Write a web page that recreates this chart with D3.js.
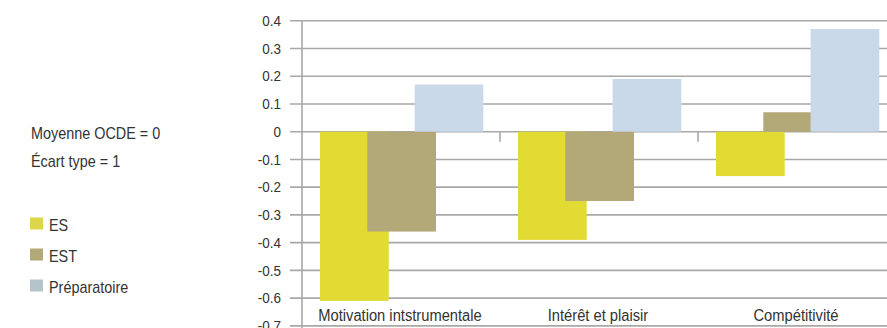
<!DOCTYPE html>
<html><head><meta charset="utf-8">
<script src="https://cdn.jsdelivr.net/npm/d3@7/dist/d3.min.js"></script>
<style>
body{margin:0;background:#fff;}
text{font-family:"Liberation Sans",Arial,sans-serif;fill:#333;}
</style></head>
<body><svg id="c" width="887" height="328"></svg>
<script>
const categories = ["Motivation intstrumentale", "Intérêt et plaisir", "Compétitivité"];
const seriesNames = ["ES", "EST", "Préparatoire"];
const ES = [-0.61, -0.39, -0.16];
const EST = [-0.36, -0.25, 0.07];
const PREP = [0.17, 0.19, 0.37];
const yTicks = [0.4, 0.3, 0.2, 0.1, 0, -0.1, -0.2, -0.3, -0.4, -0.5, -0.6, -0.7];
const yTickLabels = ["0.4","0.3","0.2","0.1","0","-0.1","-0.2","-0.3","-0.4","-0.5","-0.6","-0.7"];
const noteLines = ["Moyenne OCDE = 0", "Écart type = 1"];

const barColors = ["#e1db33", "#b3a878", "#c9d9e9"];
const legendColors = ["#dcd64a", "#b3a878", "#b5c4ca"];
const seriesVals = [ES, EST, PREP];

const svg = d3.select("#c");
const y = d3.scaleLinear().domain([-0.7, 0.4]).range([325.9, 20.7]);
const x = d3.scaleBand().domain(categories).range([302, 896]).padding(0);
const xs = d3.scalePoint().domain(seriesNames).range([18, 18 + 94.6]);
const barW = 68.7;

svg.append("g").selectAll("line").data(yTicks).join("line")
  .attr("x1", 290).attr("x2", 887)
  .attr("y1", d => y(d)).attr("y2", d => y(d))
  .attr("stroke", "#a8a8a8").attr("stroke-width", 1.6);

svg.append("g").selectAll("g").data(yTicks).join("g")
  .attr("transform", d => `translate(281,${y(d)}) scale(0.9,1)`)
  .append("text").attr("dy", "0.35em")
  .attr("text-anchor", "end").attr("font-size", 15)
  .text((d, i) => yTickLabels[i]);

seriesNames.forEach((s, si) => {
  svg.append("g").selectAll("rect").data(categories).join("rect")
    .attr("x", c => x(c) + xs(s))
    .attr("width", barW)
    .attr("y", (c, i) => y(Math.max(0, seriesVals[si][i])))
    .attr("height", (c, i) => Math.abs(y(seriesVals[si][i]) - y(0)))
    .attr("fill", barColors[si]);
});

svg.append("line").attr("x1", 302).attr("x2", 302).attr("y1", y(0.4)).attr("y2", 328)
  .attr("stroke", "#a8a8a8").attr("stroke-width", 1.6);

const seps = categories.slice(1).map(c => x(c));
svg.append("g").selectAll("line").data(seps).join("line")
  .attr("x1", d => d).attr("x2", d => d)
  .attr("y1", y(0)).attr("y2", y(0) + 10)
  .attr("stroke", "#a8a8a8").attr("stroke-width", 1.6);

svg.append("g").selectAll("g").data(categories).join("g")
  .attr("transform", c => `translate(${x(c) + x.bandwidth() / 2 - 1},321) scale(0.92,1)`)
  .append("text").attr("text-anchor", "middle").attr("font-size", 16)
  .text(c => c);

svg.append("g").selectAll("g").data(noteLines).join("g")
  .attr("transform", (d, i) => `translate(31,${139 + i * 28}) scale(0.9,1)`)
  .append("text").attr("font-size", 16).text(d => d);

const lg = svg.append("g").selectAll("g").data(seriesNames).join("g")
  .attr("transform", (d, i) => `translate(30,${217.5 + i * 31})`);
lg.append("rect").attr("width", 13).attr("height", 12).attr("fill", (d, i) => legendColors[i]);
lg.append("g").attr("transform", "translate(19,13) scale(0.9,1)")
  .append("text").attr("font-size", 16).text(d => d);
</script></body></html>
